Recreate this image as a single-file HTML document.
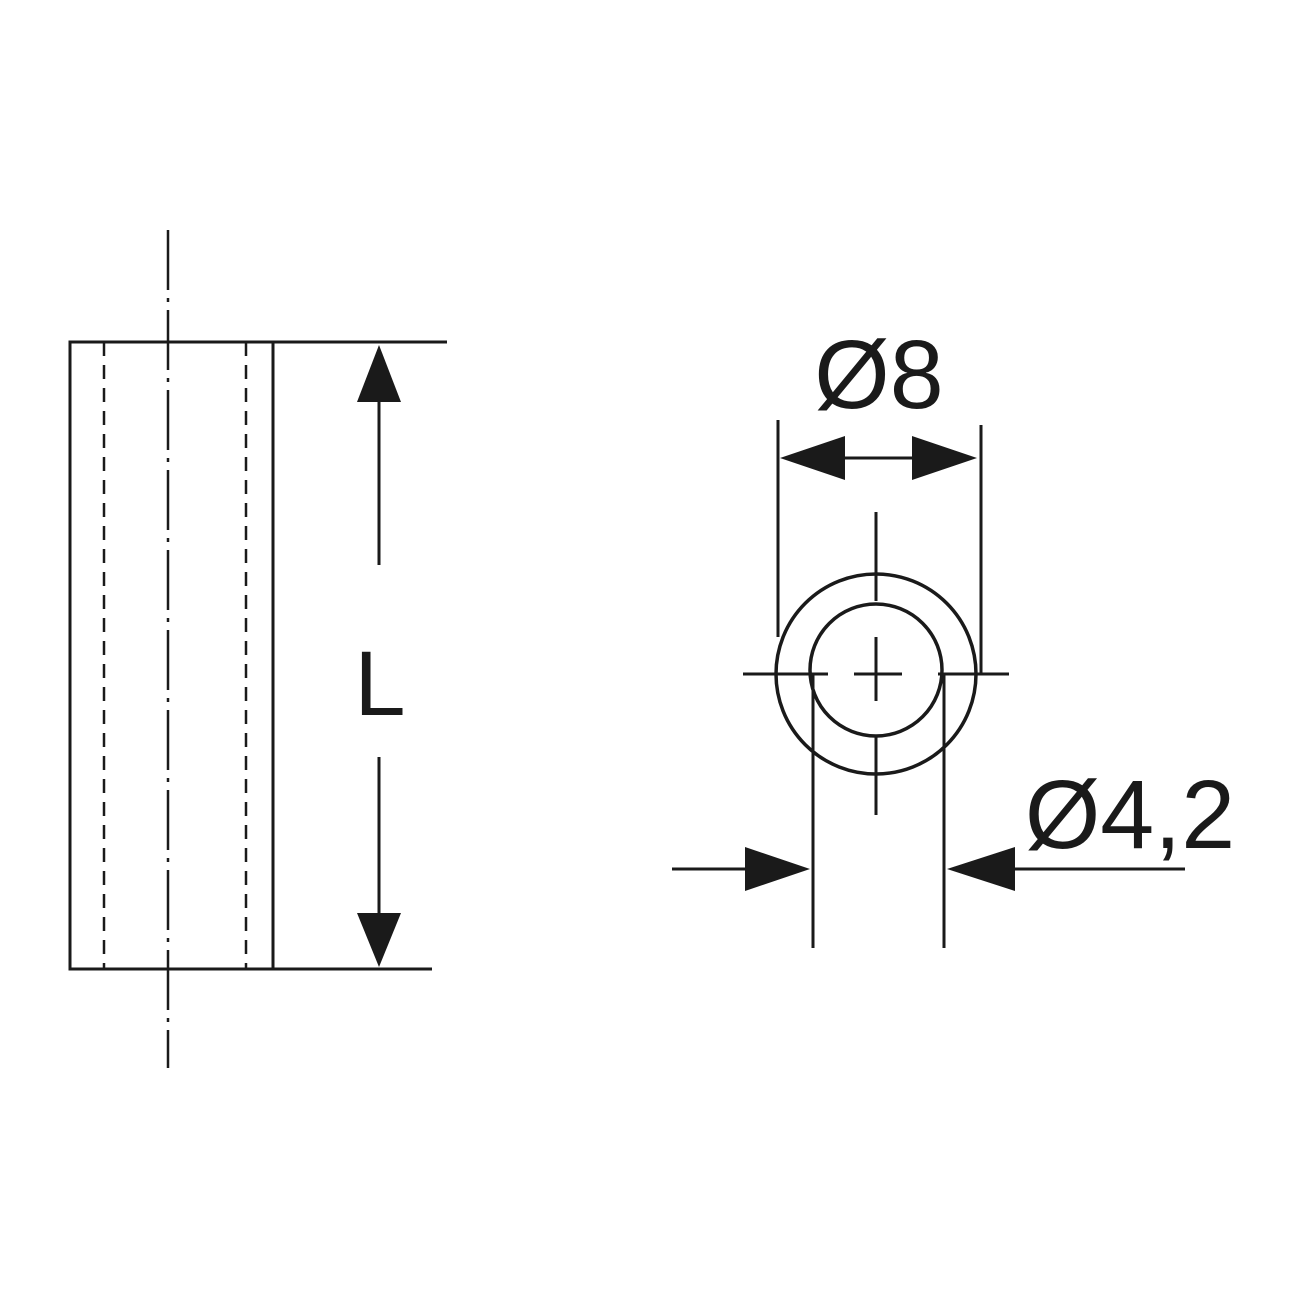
<!DOCTYPE html><html><head><style>body{margin:0;background:#fff}</style></head><body>
<svg width="1299" height="1299" viewBox="0 0 1299 1299" xmlns="http://www.w3.org/2000/svg">
<g stroke="#1a1a1a" stroke-width="3" fill="none">
<rect x="70" y="342" width="203" height="627"/>
<line x1="273" y1="342" x2="447" y2="342"/>
<line x1="273" y1="969" x2="432" y2="969"/>
<line x1="104" y1="342" x2="104" y2="969" stroke-dasharray="14,9" stroke-width="2.5"/>
<line x1="246" y1="342" x2="246" y2="969" stroke-dasharray="14,9" stroke-width="2.5"/>
<line x1="168" y1="230" x2="168" y2="1068" stroke-dasharray="60,8,4,8" stroke-width="2.5"/>
<line x1="379" y1="395" x2="379" y2="565"/>
<line x1="379" y1="757" x2="379" y2="920"/>
<circle cx="876" cy="674" r="100" stroke-width="3.5"/>
<circle cx="876" cy="670" r="66" stroke-width="3.5"/>
<line x1="876" y1="512" x2="876" y2="601"/>
<line x1="876" y1="637" x2="876" y2="701"/>
<line x1="876" y1="736" x2="876" y2="815"/>
<line x1="743" y1="674" x2="828" y2="674"/>
<line x1="854" y1="674" x2="902" y2="674"/>
<line x1="938" y1="674" x2="1009" y2="674"/>
<line x1="778" y1="420" x2="778" y2="637"/>
<line x1="981" y1="425" x2="981" y2="674"/>
<line x1="813" y1="674" x2="813" y2="948"/>
<line x1="944" y1="674" x2="944" y2="948"/>
<line x1="840" y1="458" x2="915" y2="458"/>
<line x1="672" y1="869" x2="750" y2="869"/>
<line x1="1010" y1="869" x2="1185" y2="869"/>
</g>
<g fill="#1a1a1a">
<polygon points="379,345 357,402 401,402"/>
<polygon points="379,967 357,913 401,913"/>
<polygon points="780,458 845,436 845,480"/>
<polygon points="977,458 912,436 912,480"/>
<polygon points="810,869 745,847 745,891"/>
<polygon points="947,869 1015,847 1015,891"/>
</g>
<g font-family="Liberation Sans, sans-serif" fill="#1a1a1a">
<text x="380" y="715" font-size="92" text-anchor="middle">L</text>
<text x="879" y="408" font-size="97" text-anchor="middle">Ø8</text>
<text x="1130" y="848" font-size="97" text-anchor="middle">Ø4,2</text>
</g>
</svg>
</body></html>
